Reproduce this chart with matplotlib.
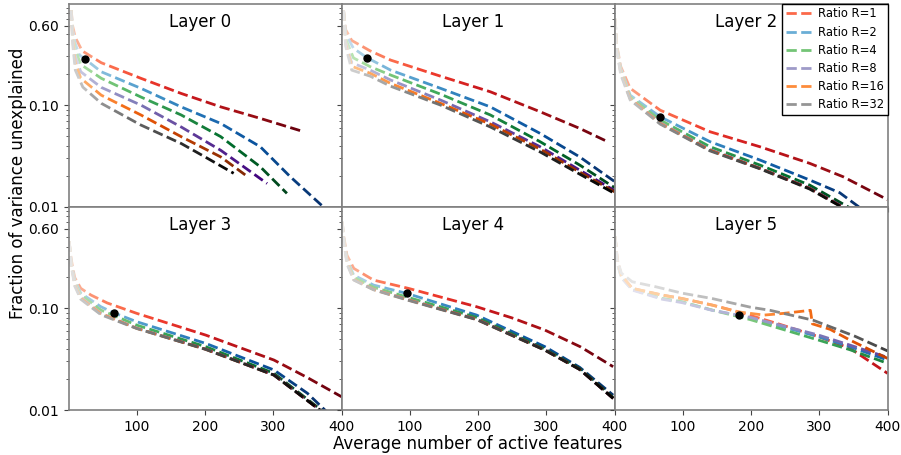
import numpy as np
import matplotlib
matplotlib.use("Agg")
import matplotlib.pyplot as plt
from matplotlib.collections import LineCollection
from matplotlib.lines import Line2D
from matplotlib.ticker import NullFormatter

plt.rcParams['font.family'] = ['DejaVu Sans']

# ---------------- data ----------------
ratios = [1, 2, 4, 8, 16, 32]
ratio_labels = ["Ratio R=%d" % r for r in ratios]
layer_titles = ["Layer 0", "Layer 1", "Layer 2", "Layer 3", "Layer 4", "Layer 5"]
x_ticks = [100, 200, 300, 400]
y_ticks = [0.01, 0.1, 0.6]
y_tick_labels = ["0.01", "0.10", "0.60"]

layer0_x = [
    [4, 6, 10, 20, 48, 106, 165, 223, 281, 340],
    [4, 6, 10, 16, 25, 48, 106, 165, 223, 281, 325, 375],
    [4, 6, 10, 18, 48, 106, 165, 223, 281, 320],
    [4, 6, 10, 18, 48, 106, 165, 223, 291],
    [4, 6, 10, 18, 48, 106, 165, 223, 264],
    [4, 6, 10, 21, 48, 106, 165, 200, 242],
]
layer0_y = [
    [0.85, 0.6, 0.46, 0.34, 0.26, 0.183, 0.13, 0.096, 0.074, 0.056],
    [0.85, 0.55, 0.4, 0.31, 0.28, 0.212, 0.146, 0.096, 0.066, 0.039, 0.0198, 0.0098],
    [0.85, 0.5, 0.35, 0.25, 0.183, 0.12, 0.08, 0.049, 0.0248, 0.0136],
    [0.85, 0.47, 0.3, 0.212, 0.149, 0.10, 0.061, 0.036, 0.017],
    [0.85, 0.44, 0.26, 0.183, 0.125, 0.08, 0.049, 0.031, 0.0195],
    [0.85, 0.4, 0.22, 0.15, 0.104, 0.0637, 0.042, 0.031, 0.0214],
]

layer1_x = [
    [3, 6, 15, 42, 72, 145, 218, 291, 349, 390],
    [3, 6, 17.5, 37.5, 72, 145, 218, 291, 349, 400],
    [3, 6, 17.5, 42, 72, 145, 218, 291, 349, 400],
    [3, 6, 15, 42, 72, 145, 218, 291, 349, 400],
    [3, 6, 15, 42, 72, 145, 218, 291, 349, 400],
    [3, 6, 15, 42, 72, 145, 218, 291, 349, 400],
]
layer1_y = [
    [0.85, 0.55, 0.43, 0.34, 0.276, 0.192, 0.135, 0.086, 0.059, 0.0437],
    [0.85, 0.5, 0.36, 0.291, 0.22, 0.146, 0.096, 0.0527, 0.031, 0.0178],
    [0.85, 0.45, 0.29, 0.238, 0.197, 0.128, 0.080, 0.0437, 0.0258, 0.0155],
    [0.85, 0.42, 0.26, 0.22, 0.176, 0.112, 0.0685, 0.039, 0.023, 0.0145],
    [0.85, 0.4, 0.24, 0.205, 0.163, 0.104, 0.065, 0.037, 0.022, 0.0141],
    [0.85, 0.38, 0.22, 0.192, 0.153, 0.10, 0.061, 0.0347, 0.021, 0.0136],
]

layer2_x = [
    [1, 3, 9, 23, 67, 140, 213, 286, 335, 400],
    [1, 3, 9, 23, 67, 140, 213, 286, 330, 360],
    [1, 3, 9, 23, 67, 140, 213, 286, 345],
    [1, 3, 9, 23, 67, 140, 213, 286, 337],
    [1, 3, 9, 23, 67, 140, 213, 286, 336],
    [1, 3, 9, 23, 67, 140, 213, 286, 335],
]
layer2_y = [
    [0.7, 0.4, 0.24, 0.146, 0.089, 0.0547, 0.039, 0.0268, 0.0198, 0.0118],
    [0.7, 0.39, 0.23, 0.125, 0.0767, 0.0437, 0.0289, 0.0184, 0.0138, 0.0098],
    [0.7, 0.38, 0.22, 0.12, 0.0713, 0.039, 0.0258, 0.0164, 0.0098],
    [0.7, 0.37, 0.21, 0.116, 0.067, 0.0365, 0.024, 0.0153, 0.0098],
    [0.7, 0.37, 0.21, 0.115, 0.066, 0.036, 0.0239, 0.0152, 0.0098],
    [0.7, 0.36, 0.2, 0.112, 0.065, 0.0355, 0.0237, 0.015, 0.0098],
]

layer3_x = [
    [1, 4, 9, 18, 33, 57, 100, 201, 301, 350, 400],
    [1, 4, 9, 18, 47.5, 66, 100, 201, 301, 350, 377],
    [1, 4, 9, 18, 47.5, 100, 201, 301, 372],
    [1, 4, 9, 18, 47.5, 100, 201, 301, 370],
    [1, 4, 9, 18, 47.5, 100, 201, 301, 370],
    [1, 4, 9, 18, 47.5, 100, 201, 301, 370],
]
layer3_y = [
    [0.45, 0.3, 0.2, 0.156, 0.134, 0.112, 0.0887, 0.0543, 0.0309, 0.0208, 0.0135],
    [0.45, 0.28, 0.19, 0.14, 0.103, 0.09, 0.0734, 0.045, 0.0247, 0.0146, 0.0098],
    [0.45, 0.27, 0.18, 0.135, 0.0955, 0.068, 0.0418, 0.0229, 0.0098],
    [0.45, 0.27, 0.175, 0.128, 0.089, 0.0635, 0.0396, 0.0221, 0.0098],
    [0.45, 0.27, 0.17, 0.125, 0.088, 0.0632, 0.0394, 0.022, 0.0098],
    [0.45, 0.26, 0.165, 0.122, 0.086, 0.063, 0.0393, 0.022, 0.0098],
]

layer4_x = [
    [1, 3.4, 8, 18, 47, 98, 198, 250, 298, 350, 398],
    [1, 3.4, 8, 18, 47, 96, 198, 298, 349, 398],
    [1, 3.4, 8, 18, 47, 98, 198, 298, 349, 398],
    [1, 3.4, 8, 18, 47, 98, 198, 298, 349, 398],
    [1, 3.4, 8, 18, 47, 98, 198, 298, 349, 398],
    [1, 3.4, 8, 18, 47, 98, 198, 298, 349, 398],
]
layer4_y = [
    [0.7, 0.5, 0.33, 0.245, 0.188, 0.156, 0.103, 0.08, 0.0608, 0.0417, 0.0266],
    [0.7, 0.48, 0.3, 0.21, 0.168, 0.139, 0.0853, 0.0418, 0.0262, 0.014],
    [0.7, 0.47, 0.29, 0.2, 0.16, 0.127, 0.081, 0.0396, 0.0255, 0.0133],
    [0.7, 0.46, 0.28, 0.19, 0.153, 0.121, 0.0778, 0.0389, 0.025, 0.013],
    [0.7, 0.46, 0.28, 0.19, 0.152, 0.12, 0.0774, 0.0387, 0.025, 0.013],
    [0.7, 0.45, 0.27, 0.188, 0.151, 0.119, 0.077, 0.0386, 0.025, 0.013],
]

layer5_x = [
    [1, 4, 10, 26, 70, 99, 143, 181, 240, 299, 345, 400],
    [1, 4, 10, 26, 70, 99, 143, 199, 299, 345, 400],
    [1, 4, 10, 26, 70, 99, 143, 199, 299, 345, 400],
    [1, 4, 10, 26, 70, 99, 143, 199, 299, 345, 400],
    [1, 4, 10, 26, 70, 99, 143, 180, 219, 248, 287, 290, 316, 345, 400],
    [1, 4, 10, 26, 60, 99, 143, 199, 228, 291, 352, 400],
]
layer5_y = [
    [0.5, 0.3, 0.21, 0.156, 0.134, 0.124, 0.107, 0.092, 0.07, 0.0524, 0.0403, 0.0229],
    [0.5, 0.28, 0.2, 0.152, 0.124, 0.115, 0.0955, 0.08, 0.0524, 0.0418, 0.0309],
    [0.5, 0.28, 0.2, 0.152, 0.124, 0.115, 0.0955, 0.077, 0.0485, 0.039, 0.0287],
    [0.5, 0.28, 0.2, 0.15, 0.122, 0.113, 0.095, 0.081, 0.0543, 0.0433, 0.0328],
    [0.5, 0.3, 0.21, 0.156, 0.134, 0.124, 0.107, 0.092, 0.0853, 0.0887, 0.095, 0.07, 0.0618, 0.0485, 0.0321],
    [0.5, 0.3, 0.22, 0.181, 0.162, 0.14, 0.124, 0.102, 0.095, 0.076, 0.053, 0.038],
]

dot_x = [24.6, 37.5, 66.3, 66, 96, 182.7]
dot_y = [0.28, 0.291, 0.0767, 0.090, 0.139, 0.0853]

all_x = [layer0_x, layer1_x, layer2_x, layer3_x, layer4_x, layer5_x]
all_y = [layer0_y, layer1_y, layer2_y, layer3_y, layer4_y, layer5_y]

# ---------------- style ----------------
cmap_names = ["Reds", "Blues", "Greens", "Purples", "Oranges", "Greys"]
color_lo = [0.1, 0.1, 0.1, 0.1, 0.1, 0.15]
color_gamma = [0.5, 0.5, 0.5, 0.5, 0.5, 1.0]
color_xref = [None, None, None, None, None, 520]
LW = 2.0          # points
DASH_ON_PT, DASH_OFF_PT = 7.4, 3.2

fig, axes = plt.subplots(2, 3, sharex=True, sharey=True, figsize=(9.01, 4.55), dpi=100)
fig.subplots_adjust(left=68.5 / 901, right=887.5 / 901, bottom=1 - 410 / 455,
                    top=1 - 4 / 455, wspace=0, hspace=0)
axes = axes.ravel()

for ax in axes:
    ax.set_yscale("log")
    ax.set_xlim(0, 400)
    ax.set_ylim(0.01, 0.98)


def dash_pieces(pts, on, off):
    """Split a display-space polyline into dash pieces (lists of vertices)."""
    d = np.diff(pts, axis=0)
    seglen = np.hypot(d[:, 0], d[:, 1])
    s = np.concatenate([[0.0], np.cumsum(seglen)])
    total = s[-1]

    def point_at(v):
        i = int(np.searchsorted(s, v, side="right") - 1)
        i = min(max(i, 0), len(seglen) - 1)
        f = (v - s[i]) / seglen[i] if seglen[i] > 0 else 0.0
        return pts[i] + f * d[i]

    pieces = []
    start = 0.0
    while start < total:
        end = min(start + on, total)
        inner = [pts[j] for j in range(len(pts)) if start < s[j] < end]
        pieces.append(np.array([point_at(start)] + inner + [point_at(end)]))
        start += on + off
    return pieces


def gradient_dashed(ax, x, y, cmap, lo, gamma, xref):
    x = np.asarray(x, float)
    y = np.asarray(y, float)
    pts = ax.transData.transform(np.column_stack([x, y]))
    px = fig.dpi / 72.0
    pieces = dash_pieces(pts, DASH_ON_PT * px, DASH_OFF_PT * px)
    inv = ax.transData.inverted()
    segs = [inv.transform(p) for p in pieces]
    mids = np.array([0.5 * (p[0, 0] + p[-1, 0]) for p in segs])
    ref = xref if xref is not None else x[-1]
    t = lo + (1 - lo) * np.clip(mids / ref, 0, 1) ** gamma
    lc = LineCollection(segs, colors=cmap(t), linewidths=LW,
                        linestyles="solid", capstyle="butt", joinstyle="round")
    ax.add_collection(lc, autolim=False)


for li, ax in enumerate(axes):
    for ri in range(len(ratios)):
        cmap = plt.get_cmap(cmap_names[ri])
        gradient_dashed(ax, all_x[li][ri], all_y[li][ri], cmap,
                        color_lo[li], color_gamma[li], color_xref[li])
    ax.plot([dot_x[li]], [dot_y[li]], "o", color="black", ms=5, zorder=6)
    ax.text(0.482, 0.955, layer_titles[li], transform=ax.transAxes,
            ha="center", va="top", fontsize=12)
    ax.set_yticks(y_ticks)
    ax.set_yticklabels(y_tick_labels)
    ax.yaxis.set_minor_formatter(NullFormatter())
    ax.set_xticks(x_ticks)
    ax.tick_params(which="both", direction="out", labelsize=10, color="#444444")
    for s in ax.spines.values():
        s.set_color("#808080")
        s.set_linewidth(1.2)

handles = [Line2D([], [], color=plt.get_cmap(c)(0.5), lw=2, linestyle=(0, (3.7, 1.6)))
           for c in cmap_names]
leg = axes[2].legend(handles, ratio_labels, loc="upper right", borderaxespad=0,
                     fancybox=False, framealpha=1, edgecolor="black", fontsize=8.3,
                     handlelength=2.3, handletextpad=0.5, borderpad=0.3,
                     labelspacing=0.45)
leg.get_frame().set_linewidth(1.0)

fig.text(0.5 * (68.5 + 887.5) / 901, 1 - 449 / 455, "Average number of active features",
         ha="center", va="baseline", fontsize=12)
fig.text(18 / 901, 1 - 183 / 455, "Fraction of variance unexplained",
         ha="center", va="center", rotation=90, fontsize=12)

fig.savefig("out.png", dpi=100)
